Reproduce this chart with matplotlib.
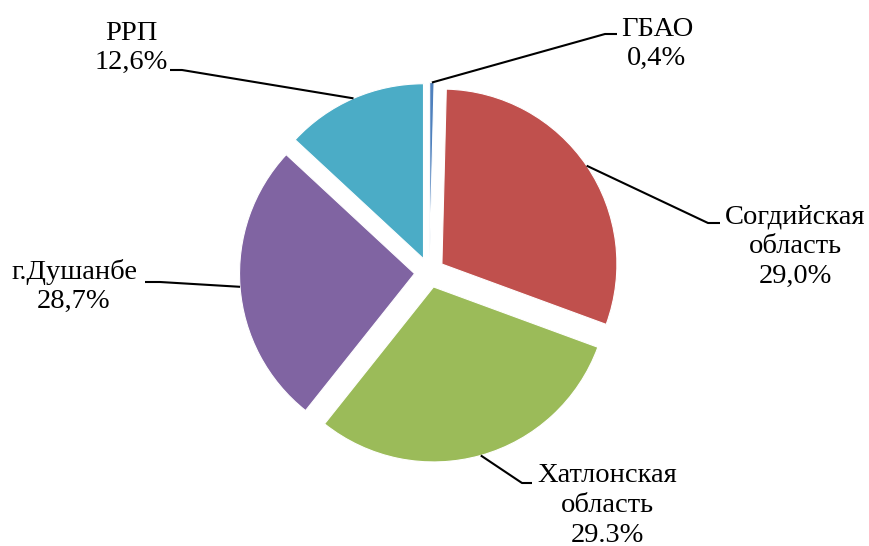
import numpy as np
import matplotlib
matplotlib.use("Agg")
import matplotlib.pyplot as plt

# данные: доли секторов оценены по углам на рисунке, подписи - как в оригинале
regions = ["ГБАО", "Согдийская\nобласть", "Хатлонская\nобласть", "г.Душанбе", "РРП"]
shares = [0.4, 30.2, 30.1, 26.2, 13.1]
value_labels = ["0,4%", "29,0%", "29.3%", "28,7%", "12,6%"]
colors = ["#4F81BD", "#C0504D", "#9BBB59", "#8064A2", "#4BACC6"]

W, H = 869, 546

# положение подписей (пиксели от верхнего левого угла): центр текста, y первой строки, излом, конец выноски
label_layout = [
    dict(x=657, y=29, knee=(605, 34), end=(617, 34)),
    dict(x=795, y=217, knee=(708, 223), end=(720, 223)),
    dict(x=607, y=476, knee=(522, 483), end=(532, 483)),
    dict(x=74, y=272, knee=(160, 282), end=(145, 282)),
    dict(x=131, y=33, knee=(182, 70), end=(170, 70)),
]
line_step = 29.5

plt.rcParams["font.family"] = ["Liberation Serif", "DejaVu Serif"]

fig = plt.figure(figsize=(W / 100, H / 100), dpi=100)
ax = fig.add_axes([0, 0, 1, 1])

# explode в matplotlib задаётся в единицах данных (здесь пиксели)
wedges, _ = ax.pie(
    shares,
    colors=colors,
    startangle=90,
    counterclock=False,
    explode=[15] * len(shares),
    radius=175,
    center=(429.5, H - 272.5),
    wedgeprops=dict(edgecolor="white", linewidth=0.8),
)
ax.set_xlim(0, W)
ax.set_ylim(0, H)
ax.set_aspect("equal")
ax.axis("off")


def to_y(y):
    return H - y


for w, name, val, lay in zip(wedges, regions, value_labels, label_layout):
    # выноска начинается на дуге посередине сектора
    ang = np.deg2rad((w.theta1 + w.theta2) / 2)
    cx, cy = w.center
    sx = cx + w.r * np.cos(ang)
    sy = cy + w.r * np.sin(ang)
    kx, ky = lay["knee"]
    ex, ey = lay["end"]
    ax.plot([sx, kx, ex], [sy, to_y(ky), to_y(ey)], color="black", lw=1.5,
            solid_capstyle="butt")

    lines = name.split("\n") + [val]
    for i, t in enumerate(lines):
        ax.text(lay["x"], to_y(lay["y"] + i * line_step), t, ha="center", va="center",
                fontsize=20.5, color="black")

fig.savefig("out.png", dpi=100)
plt.close(fig)
